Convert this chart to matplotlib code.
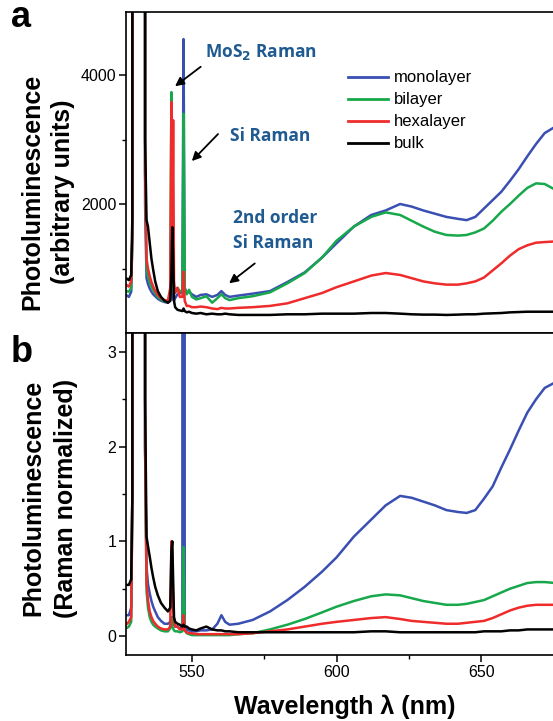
import matplotlib
matplotlib.use('Agg')
import matplotlib.pyplot as plt
import numpy as np

plt.rcParams['font.family'] = ['Liberation Sans', 'DejaVu Sans']

OFF = 1e6  # signal far above the visible range (laser line)

# wavelength grid (nm)
wl = [527.2, 528.2, 529.0, 529.4, 529.6, 533.4, 533.8, 534.3, 534.8, 535.4,
      536.0, 536.6, 537.3, 538.2, 539.3, 540.5, 541.7, 542.5, 542.9, 543.2,
      543.5, 543.8, 544.2, 545.0, 545.8, 546.7, 547.1, 547.5, 548.2, 549.0,
      550.0, 551.5, 553.0, 555.0, 557.0, 558.8, 560.2, 561.5, 563.0, 566.0,
      571.0, 577.0, 583.0, 589.0, 595.0, 600.0, 606.0, 612.0, 617.0, 622.0,
      626.0, 630.0, 634.0, 638.0, 642.0, 645.0, 648.0, 651.0, 654.0, 657.0,
      660.0, 663.0, 666.0, 669.0, 672.0, 675.7]

labels = ['monolayer', 'bilayer', 'hexalayer', 'bulk']
colors = ['#3a4fb2', '#17a84b', '#ef2b2b', '#000000']

# panel a: arbitrary units
a_mono = [590, 560, 640, 1500, OFF, OFF, 2000, 850, 760, 690,
          640, 600, 570, 530, 500, 480, 470, 500, 700, 600,
          520, 500, 540, 600, 620, 640, 4557, 700, 620, 640,
          600, 560, 590, 600, 560, 590, 650, 590, 560, 580,
          610, 650, 790, 940, 1170, 1390, 1650, 1830, 1900, 2000,
          1960, 1900, 1850, 1800, 1770, 1750, 1800, 1930, 2060, 2190,
          2360, 2540, 2740, 2930, 3100, 3200]
a_bi = [650, 640, 700, 1500, OFF, OFF, 2500, 1000, 880, 790,
        720, 670, 620, 560, 520, 490, 480, 600, 3735, 900,
        700, 620, 680, 700, 650, 650, 3400, 700, 600, 670,
        560, 520, 540, 570, 470, 540, 600, 540, 510, 540,
        570, 630, 770, 930, 1170, 1430, 1650, 1800, 1870, 1830,
        1740, 1650, 1570, 1520, 1510, 1520, 1560, 1620, 1740, 1880,
        2000, 2130, 2250, 2320, 2310, 2220]
a_hexa = [750, 720, 800, 1500, OFF, OFF, 2500, 1150, 1000, 880,
          790, 720, 650, 590, 540, 510, 500, 700, 3580, 1200,
          3300, 800, 620, 700, 560, 560, 950, 500, 420, 420,
          400, 400, 410, 400, 380, 370, 390, 380, 380, 390,
          400, 420, 460, 540, 620, 710, 800, 890, 930, 900,
          850, 800, 770, 750, 750, 770, 800, 860, 970, 1080,
          1200, 1300, 1360, 1400, 1410, 1420]
a_bulk = [850, 820, 900, 1800, OFF, OFF, 3000, 1750, 1650, 1400,
          1150, 980, 800, 650, 560, 500, 470, 500, 900, 1640,
          1200, 500, 400, 360, 350, 340, 380, 340, 320, 330,
          310, 300, 310, 290, 300, 290, 290, 300, 290, 280,
          280, 280, 290, 290, 300, 300, 300, 310, 310, 300,
          290, 285, 285, 280, 285, 290, 290, 300, 305, 310,
          320, 325, 330, 330, 330, 330]

# panel b: Raman normalized
b_mono = [0.22, 0.22, 0.30, 1.5, OFF, OFF, 2.0, 0.73, 0.55, 0.45,
          0.37, 0.31, 0.26, 0.20, 0.16, 0.13, 0.13, 0.15, 0.18, 0.20,
          0.16, 0.12, 0.10, 0.10, 0.08, 0.10, OFF, 0.12, 0.06, 0.06,
          0.05, 0.05, 0.06, 0.06, 0.07, 0.13, 0.22, 0.15, 0.12, 0.13,
          0.17, 0.26, 0.38, 0.52, 0.68, 0.83, 1.05, 1.23, 1.38, 1.48,
          1.46, 1.42, 1.38, 1.33, 1.31, 1.30, 1.33, 1.45, 1.58, 1.78,
          1.97, 2.17, 2.36, 2.50, 2.62, 2.68]
b_bi = [0.08, 0.10, 0.15, 1.5, OFF, OFF, 2.0, 0.48, 0.30, 0.20,
        0.15, 0.12, 0.10, 0.08, 0.06, 0.05, 0.05, 0.08, 0.20, 0.10,
        0.08, 0.06, 0.05, 0.05, 0.04, 0.05, 0.94, 0.06, 0.03, 0.02,
        0.01, 0.01, 0.01, 0.01, 0.01, 0.01, 0.01, 0.01, 0.01, 0.02,
        0.03, 0.07, 0.12, 0.18, 0.25, 0.31, 0.37, 0.42, 0.44, 0.43,
        0.40, 0.37, 0.35, 0.33, 0.33, 0.34, 0.36, 0.38, 0.42, 0.46,
        0.50, 0.53, 0.56, 0.57, 0.57, 0.56]
b_hexa = [0.12, 0.15, 0.20, 1.5, OFF, OFF, 2.0, 0.56, 0.38, 0.26,
          0.20, 0.16, 0.13, 0.10, 0.08, 0.07, 0.07, 0.10, 1.00, 0.90,
          0.30, 0.15, 0.10, 0.10, 0.07, 0.07, 0.22, 0.06, 0.04, 0.03,
          0.03, 0.02, 0.02, 0.02, 0.02, 0.02, 0.02, 0.02, 0.02, 0.02,
          0.03, 0.05, 0.07, 0.10, 0.13, 0.15, 0.17, 0.19, 0.20, 0.18,
          0.16, 0.15, 0.14, 0.13, 0.13, 0.14, 0.15, 0.16, 0.19, 0.23,
          0.27, 0.30, 0.32, 0.33, 0.33, 0.33]
b_bulk = [0.54, 0.54, 0.60, 1.5, OFF, OFF, 2.5, 1.05, 0.95, 0.84,
          0.72, 0.62, 0.52, 0.43, 0.35, 0.30, 0.26, 0.30, 0.90, 1.00,
          0.60, 0.20, 0.15, 0.13, 0.12, 0.10, 0.12, 0.10, 0.10, 0.08,
          0.07, 0.06, 0.08, 0.10, 0.07, 0.06, 0.06, 0.05, 0.05, 0.04,
          0.04, 0.04, 0.04, 0.04, 0.04, 0.04, 0.04, 0.05, 0.05, 0.04,
          0.04, 0.04, 0.04, 0.04, 0.04, 0.04, 0.04, 0.05, 0.05, 0.05,
          0.06, 0.06, 0.07, 0.07, 0.07, 0.07]

W, H = 553, 721
fig = plt.figure(figsize=(W / 100, H / 100), dpi=100)
ax1 = fig.add_axes([126 / W, 1 - 333 / H, (558 - 126) / W, (333 - 12) / H])
ax2 = fig.add_axes([126 / W, 1 - 655 / H, (558 - 126) / W, (655 - 333) / H])

for ax in (ax1, ax2):
    for s in ax.spines.values():
        s.set_linewidth(1.2)
    ax.tick_params(which='major', length=5, width=1.1, labelsize=11.5, pad=2)
    ax.tick_params(which='minor', length=3, width=1.0)
    ax.set_xlim(527.2, 676.6)

for ys, lab, c in zip([a_mono, a_bi, a_hexa, a_bulk], labels, colors):
    ax1.plot(wl, ys, color=c, lw=1.8, label=lab)
for ys, c in zip([b_mono, b_bi, b_hexa, b_bulk], colors):
    ax2.plot(wl, ys, color=c, lw=1.8)

ax1.set_ylim(0, 4977)
ax1.set_yticks([2000, 4000])
ax1.set_yticks([1000, 3000], minor=True)
ax1.tick_params(axis='x', which='both', bottom=False, labelbottom=False)

ax2.set_ylim(-0.2, 3.2)
ax2.set_yticks([0, 1, 2, 3])
ax2.set_yticks([0.5, 1.5, 2.5], minor=True)
ax2.set_xticks([550, 600, 650])
ax2.set_xticks([575, 625], minor=True)

leg = ax1.legend(loc='upper left', bbox_to_anchor=(0.515, 0.818), frameon=False,
                 fontsize=12, handlelength=2.4, handletextpad=0.35,
                 labelspacing=0.42, borderpad=0, borderaxespad=0)
for ln in leg.get_lines():
    ln.set_linewidth(2.0)

# annotations
ann = dict(color='#1f5a91', fontsize=12.5, fontweight='bold',
           family=['Open Sans', 'DejaVu Sans'], va='center', ha='left')
ax1.text(554.4, 4355, 'MoS$_\\mathbf{2}$ Raman', **ann)
ax1.text(563.2, 3054, 'Si Raman', **ann)
ax1.text(564.2, 1783, '2nd order', **ann)
ax1.text(564.2, 1395, 'Si Raman', **ann)
arr = dict(arrowstyle='-|>', color='black', lw=1.3, mutation_scale=13)
ax1.annotate('', xy=(543.4, 3800), xytext=(553.8, 4154), arrowprops=arr)
ax1.annotate('', xy=(549.3, 2635), xytext=(559.7, 3116), arrowprops=arr)
ax1.annotate('', xy=(562.1, 744), xytext=(572.5, 1105), arrowprops=arr)

# axis labels and panel letters
lab = dict(fontsize=18, fontweight='bold', rotation=90, ha='center', va='center')
fig.text(32 / W, 1 - 192 / H, 'Photoluminescence', **lab)
fig.text(63 / W, 1 - 192 / H, '(arbitrary units)', **lab)
fig.text(33 / W, 1 - 498 / H, 'Photoluminescence', **lab)
fig.text(66 / W, 1 - 498 / H, '(Raman normalized)', **lab)
fig.text(345 / W, 1 - 707 / H, 'Wavelength \u03bb (nm)', fontsize=18,
         fontweight='bold', ha='center', va='center')
fig.text(11 / W, 1 - 27 / H, 'a', fontsize=26, fontweight='bold', va='baseline')
fig.text(11 / W, 1 - 362 / H, 'b', fontsize=26, fontweight='bold', va='baseline')

fig.savefig('out.png', dpi=100)
